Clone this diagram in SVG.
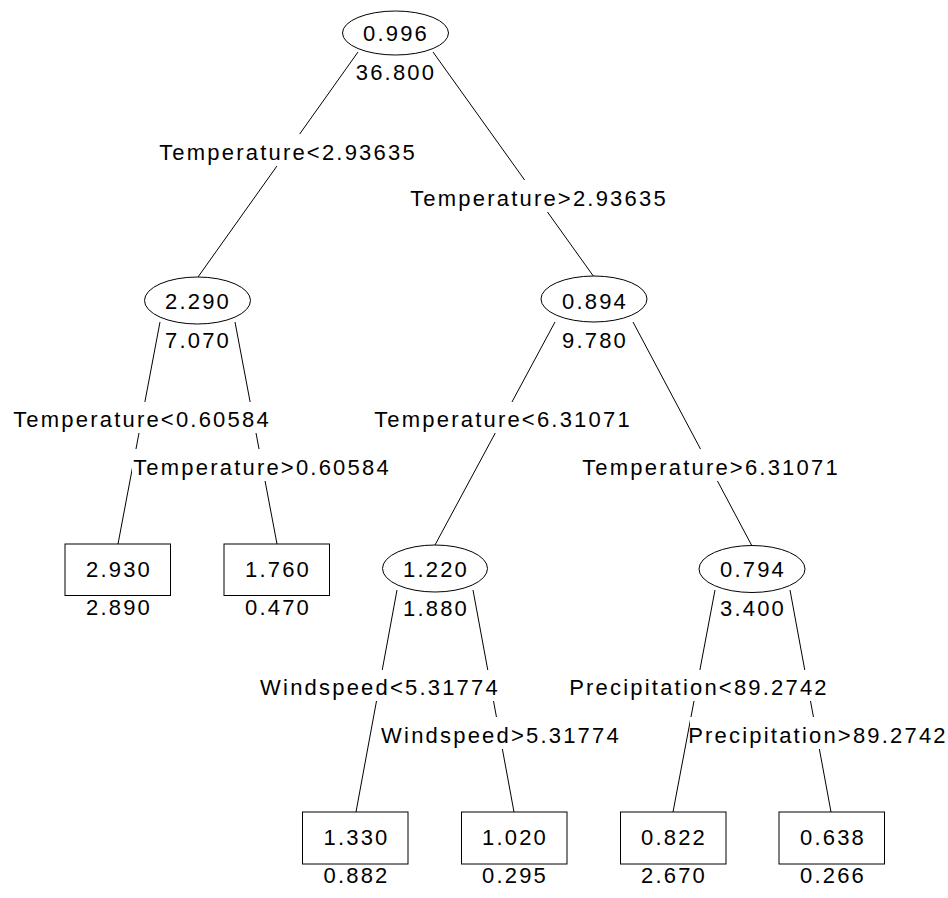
<svg xmlns="http://www.w3.org/2000/svg" width="948" height="898" viewBox="0 0 948 898">
<style>
text{font-family:"Liberation Sans",Arial,sans-serif;font-size:22px;letter-spacing:2.2px;fill:#000;text-anchor:middle}
.e{fill:none;stroke:#000;stroke-width:1}
.n{fill:#fff;stroke:#000;stroke-width:1}
.lb{fill:#fff}
</style>
<rect width="948" height="898" fill="#fff"/>
<g id="connectors" class="e">
<line x1="358" y1="52" x2="198" y2="277"/>
<line x1="433" y1="52" x2="594" y2="277"/>
<line x1="160" y1="322" x2="118" y2="544"/>
<line x1="235" y1="322" x2="277" y2="544"/>
<line x1="555" y1="322" x2="435" y2="545"/>
<line x1="633" y1="322" x2="752" y2="546"/>
<line x1="397" y1="590" x2="356" y2="812"/>
<line x1="473" y1="590" x2="514" y2="812"/>
<line x1="715" y1="590" x2="673" y2="812"/>
<line x1="790" y1="590" x2="831" y2="812"/>
</g>
<g id="edge-labels">
<rect class="lb" x="158" y="134" width="259" height="32"/><text x="288" y="160">Temperature&lt;2.93635</text>
<rect class="lb" x="409" y="180" width="259" height="32"/><text x="539" y="206">Temperature&gt;2.93635</text>
<rect class="lb" x="12" y="402" width="259" height="31"/><text x="142" y="427">Temperature&lt;0.60584</text>
<rect class="lb" x="132" y="449" width="259" height="32"/><text x="262" y="475">Temperature&gt;0.60584</text>
<rect class="lb" x="373" y="402" width="259" height="31"/><text x="503" y="427">Temperature&lt;6.31071</text>
<rect class="lb" x="580" y="449" width="259" height="32"/><text x="711" y="475">Temperature&gt;6.31071</text>
<rect class="lb" x="260" y="670" width="240" height="31"/><text x="380" y="695">Windspeed&lt;5.31774</text>
<rect class="lb" x="380" y="717" width="240" height="32"/><text x="501" y="743">Windspeed&gt;5.31774</text>
<rect class="lb" x="570" y="670" width="257" height="31"/><text x="699" y="695">Precipitation&lt;89.2742</text>
<rect class="lb" x="690" y="717" width="257" height="32"/><text x="818" y="743">Precipitation&gt;89.2742</text>
</g>
<g id="n-root"><ellipse class="n" cx="395.5" cy="33" rx="53" ry="22"/><text x="396" y="41">0.996</text><text x="396" y="80">36.800</text></g>
<g id="n-2290"><ellipse class="n" cx="197.5" cy="300.5" rx="53" ry="23.5"/><text x="198" y="308.5">2.290</text><text x="198" y="348">7.070</text></g>
<g id="n-0894"><ellipse class="n" cx="594" cy="299" rx="53" ry="23"/><text x="595" y="308.5">0.894</text><text x="595" y="348">9.780</text></g>
<g id="n-2930"><rect class="n" x="65" y="544" width="105.5" height="51.5"/><text x="119" y="577">2.930</text><text x="119" y="615">2.890</text></g>
<g id="n-1760"><rect class="n" x="224" y="544" width="105.5" height="51.5"/><text x="278" y="577">1.760</text><text x="278" y="615">0.470</text></g>
<g id="n-1220"><ellipse class="n" cx="435" cy="568.5" rx="52.5" ry="23.5"/><text x="436" y="576.5">1.220</text><text x="436" y="616">1.880</text></g>
<g id="n-0794"><ellipse class="n" cx="752" cy="569" rx="53" ry="23.5"/><text x="753" y="577">0.794</text><text x="753" y="616">3.400</text></g>
<g id="n-1330"><rect class="n" x="302.5" y="812" width="105.5" height="52"/><text x="356.5" y="845">1.330</text><text x="356.5" y="883">0.882</text></g>
<g id="n-1020"><rect class="n" x="461.5" y="812" width="105.5" height="52"/><text x="515" y="845">1.020</text><text x="515" y="883">0.295</text></g>
<g id="n-0822"><rect class="n" x="620.5" y="812" width="105.5" height="52"/><text x="674" y="845">0.822</text><text x="674" y="883">2.670</text></g>
<g id="n-0638"><rect class="n" x="779" y="812" width="105.5" height="52"/><text x="833" y="845">0.638</text><text x="833" y="883">0.266</text></g>
</svg>
